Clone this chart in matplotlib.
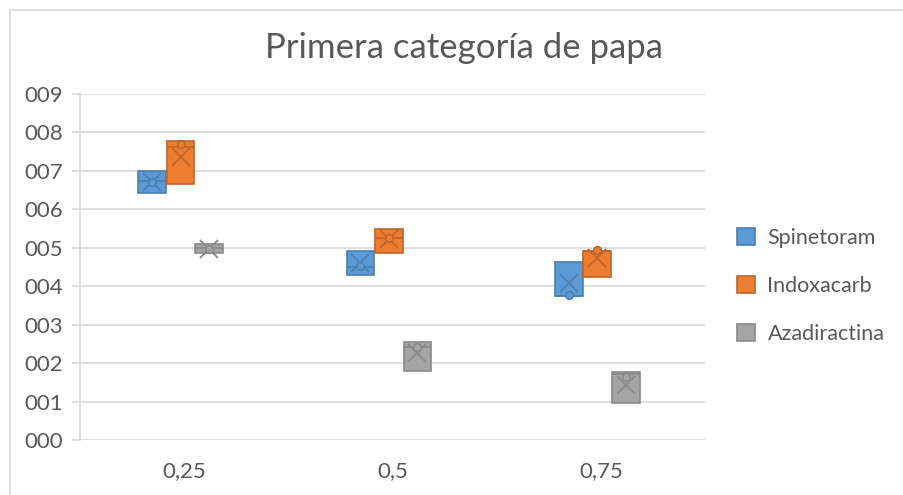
import matplotlib.pyplot as plt
import matplotlib.patches as patches
from matplotlib.ticker import FuncFormatter

plt.rcParams['font.family'] = ['Lato', 'DejaVu Sans']

# Dose levels on the x axis and the three insecticides
categories = ['0,25', '0,5', '0,75']
series = ['Spinetoram', 'Indoxacarb', 'Azadiractina']
fill_colors = ['#5B9BD5', '#ED7D31', '#A5A5A5']
edge_colors = ['#4A7FB0', '#C0642A', '#8A8A8A']

# Box statistics per series, one value per dose level
q1 = {
    'Spinetoram': [6.42, 4.29, 3.74],
    'Indoxacarb': [6.65, 4.86, 4.23],
    'Azadiractina': [4.86, 1.79, 0.96],
}
q3 = {
    'Spinetoram': [7.00, 4.91, 4.62],
    'Indoxacarb': [7.77, 5.48, 4.91],
    'Azadiractina': [5.09, 2.55, 1.77],
}
medians = {
    'Spinetoram': [6.73, 4.49, 3.74],
    'Indoxacarb': [7.61, 5.25, 4.91],
    'Azadiractina': [4.99, 2.42, 1.71],
}
means = {
    'Spinetoram': [6.70, 4.60, 4.08],
    'Indoxacarb': [7.35, 5.22, 4.73],
    'Azadiractina': [4.98, 2.26, 1.43],
}
# Inner points shown as small circles
inner_points = {
    'Spinetoram': [6.72, 4.53, 3.77],
    'Indoxacarb': [7.69, 5.25, 4.94],
    'Azadiractina': [4.98, 2.42, 1.64],
}

fig = plt.figure(figsize=(9.04, 4.95), dpi=100)
ax = fig.add_axes([80 / 904, 55 / 495, 625 / 904, 346 / 495])

# chart area border
fig.patches.append(patches.Rectangle((10 / 904, -0.1), 1.1, (485 / 495) + 0.1,
                                     transform=fig.transFigure, fill=False,
                                     edgecolor='#D9D9D9', linewidth=1.2))

box_w = 0.133
step = 0.137
handles = []
for i, name in enumerate(series):
    stats = []
    positions = []
    for c in range(len(categories)):
        stats.append({
            'med': medians[name][c], 'q1': q1[name][c], 'q3': q3[name][c],
            'whislo': q1[name][c], 'whishi': q3[name][c],
            'mean': means[name][c], 'fliers': [],
        })
        positions.append(c - 0.017 + (i - 1) * step)
    ax.bxp(stats, positions=positions, widths=box_w, patch_artist=True,
           showmeans=True, showcaps=False, manage_ticks=False,
           boxprops=dict(facecolor=fill_colors[i], edgecolor=edge_colors[i], linewidth=1.2),
           medianprops=dict(color=edge_colors[i], linewidth=1.2),
           whiskerprops=dict(color=edge_colors[i], linewidth=1.2),
           meanprops=dict(marker='x', markeredgecolor=edge_colors[i],
                          markersize=13, markeredgewidth=1.3))
    ax.scatter(positions, inner_points[name], s=30, facecolor=fill_colors[i],
               edgecolor=edge_colors[i], linewidth=1.2, zorder=4)
    handles.append(patches.Patch(facecolor=fill_colors[i], edgecolor=edge_colors[i],
                                 linewidth=1.2, label=name))

ax.set_xlim(-0.5, 2.5)
ax.set_ylim(0, 9)
ax.set_yticks(range(10))
ax.yaxis.set_major_formatter(FuncFormatter(lambda v, p: '%03d' % int(round(v))))
ax.set_xticks(range(len(categories)))
ax.set_xticklabels(categories)
ax.grid(axis='y', color='#D9D9D9', linewidth=1.2)
ax.set_axisbelow(True)
for side in ['top', 'right', 'bottom']:
    ax.spines[side].set_visible(False)
ax.spines['left'].set_color('#D9D9D9')
ax.spines['left'].set_linewidth(1.2)
ax.tick_params(axis='y', length=6, color='#D9D9D9', width=1.2, pad=6,
               labelsize=16, labelcolor='#595959')
ax.tick_params(axis='x', length=0, pad=15, labelsize=16, labelcolor='#595959')

fig.text(464 / 904, 1 - 48 / 495, 'Primera categoría de papa', ha='center', va='center',
         fontsize=25, color='#595959')

ax.legend(handles=handles, loc='center left', bbox_to_anchor=(1.02, 0.445),
          frameon=False, fontsize=15.5, labelcolor='#595959', handlelength=0.82,
          handleheight=0.82, handletextpad=0.6, labelspacing=1.3)

plt.savefig('out.png', dpi=100)
